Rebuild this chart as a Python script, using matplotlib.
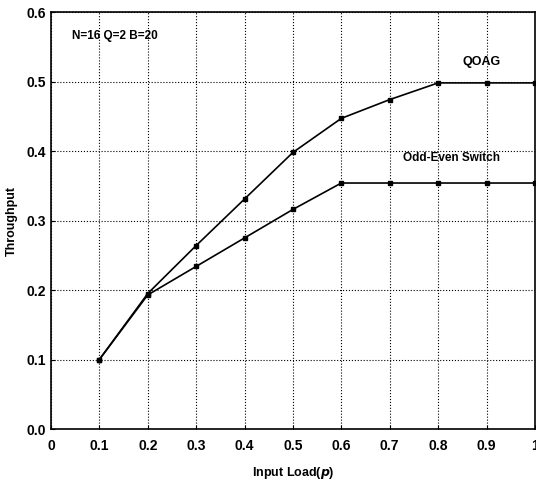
import matplotlib
matplotlib.use("Agg")
import matplotlib.pyplot as plt

x = [0.1, 0.2, 0.3, 0.4, 0.5, 0.6, 0.7, 0.8, 0.9, 1.0]
qoag = [0.100, 0.195, 0.264, 0.331, 0.398, 0.447, 0.474, 0.498, 0.498, 0.498]
oddeven = [0.100, 0.193, 0.234, 0.275, 0.316, 0.354, 0.354, 0.354, 0.354, 0.354]
xticks = [0, 0.1, 0.2, 0.3, 0.4, 0.5, 0.6, 0.7, 0.8, 0.9, 1.0]
xticklabels = ["0", "0.1", "0.2", "0.3", "0.4", "0.5", "0.6", "0.7", "0.8", "0.9", "1"]
yticks = [0.0, 0.1, 0.2, 0.3, 0.4, 0.5, 0.6]
yticklabels = ["0.0", "0.1", "0.2", "0.3", "0.4", "0.5", "0.6"]

plt.rcParams['font.family'] = ['Liberation Sans', 'DejaVu Sans']
plt.rcParams['font.weight'] = 'bold'

fig = plt.figure(figsize=(5.36, 4.8), dpi=100)
ax = fig.add_axes([0.095, 0.106, 0.903, 0.869])

ax.plot(x, qoag, color='black', lw=1.2, marker='s', ms=3.5)
ax.plot(x, oddeven, color='black', lw=1.2, marker='s', ms=3)

ax.set_xlim(0, 1)
ax.set_ylim(0, 0.6)
ax.set_xticks(xticks)
ax.set_xticklabels(xticklabels, fontsize=10, fontweight='bold')
ax.set_yticks(yticks)
ax.set_yticklabels(yticklabels, fontsize=10, fontweight='bold')
ax.tick_params(direction='in', length=3, width=0.8)
ax.tick_params(axis='x', pad=7)
ax.grid(True, color='black', linestyle=':', linewidth=0.8)
for s in ax.spines.values():
    s.set_linewidth(1.2)

ax.set_xlabel(r"Input Load($\mathit{p}$)", fontsize=9, fontweight='bold', labelpad=9)
ax.set_ylabel("Throughput", fontsize=9, fontweight='bold', labelpad=6)

ax.text(0.043, 0.565, "N=16 Q=2 B=20", fontsize=8.5, fontweight='bold', va='center', ha='left')
ax.text(0.89, 0.528, "QOAG", fontsize=9, fontweight='bold', va='center', ha='center')
ax.text(0.827, 0.39, "Odd-Even Switch", fontsize=8.5, fontweight='bold', va='center', ha='center')

fig.savefig("out.png", dpi=100)
